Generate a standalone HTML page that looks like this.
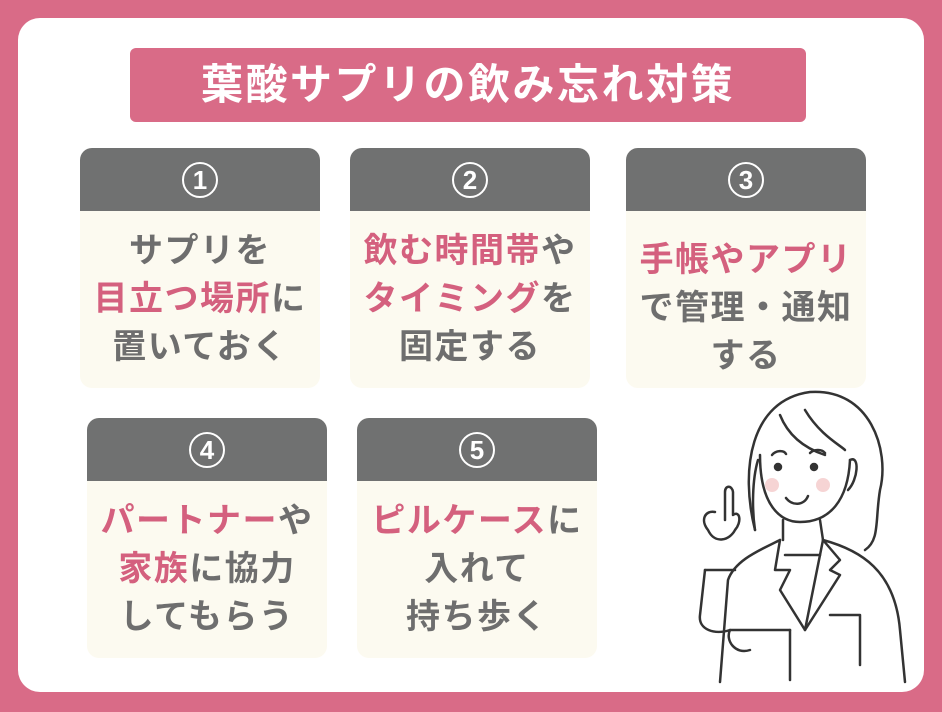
<!DOCTYPE html>
<html><head><meta charset="utf-8"><style>
body{margin:0;width:942px;height:712px;background:#d96b87;position:relative;overflow:hidden;font-family:"Liberation Sans","Noto Sans CJK JP",sans-serif;font-weight:bold}
.panel{position:absolute;left:18px;top:18px;width:906px;height:674px;background:#fff;border-radius:22px}
.title{position:absolute;left:130px;top:48px;width:676px;height:74px;background:#d96b87;border-radius:6px;color:#fff;font-size:42px;text-align:center;line-height:74px;letter-spacing:2.5px}
.card{position:absolute;width:240px;height:240px;background:#fcfaf0;border-radius:12px;overflow:hidden}
.hd{height:63px;background:#707171;display:flex;align-items:center;justify-content:center}
.num{width:36px;height:36px;border:2px solid #fff;border-radius:50%;color:#fff;font-size:26px;line-height:33px;text-align:center;box-sizing:border-box}
.tx{text-align:center;color:#6e6e6e;font-size:34px;line-height:48px;margin-top:16px;letter-spacing:1.5px}
.p{color:#d4607e}
</style></head><body>
<div class="panel"></div>
<div class="title">葉酸サプリの飲み忘れ対策</div>
<div class="card" style="left:80px;top:148px"><div class="hd"><div class="num">1</div></div><div class="tx">サプリを<br><span class="p">目立つ場所</span>に<br>置いておく</div></div>
<div class="card" style="left:350px;top:148px"><div class="hd"><div class="num">2</div></div><div class="tx"><span class="p">飲む時間帯</span>や<br><span class="p">タイミング</span>を<br>固定する</div></div>
<div class="card" style="left:626px;top:148px"><div class="hd"><div class="num">3</div></div><div class="tx" style="margin-top:25px"><span class="p">手帳やアプリ</span><br>で管理・通知<br>する</div></div>
<div class="card" style="left:87px;top:418px"><div class="hd"><div class="num">4</div></div><div class="tx"><span class="p">パートナー</span>や<br><span class="p">家族</span>に協力<br>してもらう</div></div>
<div class="card" style="left:357px;top:418px"><div class="hd"><div class="num">5</div></div><div class="tx"><span class="p">ピルケース</span>に<br>入れて<br>持ち歩く</div></div>
<svg style="position:absolute;left:680px;top:380px" width="240" height="312" viewBox="0 0 240 312" fill="none" stroke="#333" stroke-width="2.5" stroke-linecap="round" stroke-linejoin="round">
<path d="M75 150 C60 90 70 20 130 12 C190 8 210 70 200 110 C195 140 200 160 185 170"/>
<path d="M75 150 C72 130 72 100 78 80"/>
<path d="M80 75 C80 125 100 142 120 142 C150 142 168 120 170 80"/>
<path d="M170 80 C180 75 178 100 168 110"/>
<path d="M100 35 C110 60 130 70 145 75"/><path d="M125 30 C140 55 160 65 165 70"/>
<path d="M92 75 C96 70 104 70 106 74"/><path d="M130 73 C134 69 142 69 145 73"/>
<circle cx="98" cy="87" r="3" fill="#333"/><circle cx="134" cy="87" r="3" fill="#333"/>
<circle cx="92" cy="105" r="7" fill="#f6d4d4" stroke="none"/><circle cx="143" cy="105" r="7" fill="#f6d4d4" stroke="none"/>
<path d="M106 118 C112 126 124 126 128 116"/>
<path d="M103 140 L103 160 M140 140 L143 160"/>
<path d="M100 160 C80 170 55 180 48 200 L40 302"/>
<path d="M143 160 C180 170 215 190 220 250 L225 302"/>
<path d="M100 160 L95 190 L110 190 L100 210 L125 250 L143 160"/>
<path d="M143 160 L160 180 L150 190 L160 195 L125 250"/>
<path d="M105 175 L140 175"/>
<path d="M110 250 L110 300"/>
<path d="M45 140 L45 112 C45 105 52 105 53 112 L53 135 C60 130 62 142 55 150 C50 160 35 165 28 150 C20 140 25 130 35 132"/>
<path d="M25 190 L20 235 C18 250 35 255 50 250 L100 250 L110 250"/>
<path d="M25 190 L55 190"/>
<path d="M50 250 C45 260 55 275 70 270"/>
<path d="M150 235 L180 235 L180 285"/>
</svg>
</body></html>
